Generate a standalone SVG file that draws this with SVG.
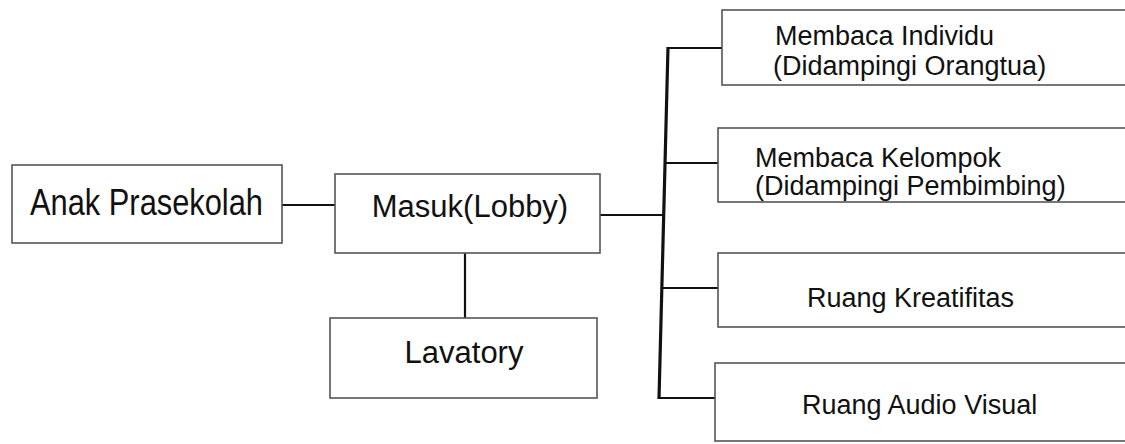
<svg xmlns="http://www.w3.org/2000/svg" width="1125" height="444" viewBox="0 0 1125 444">
<style>
.box{fill:#fff;stroke:#555;stroke-width:1.6}
.t{font-family:"Liberation Sans",Arial,sans-serif;fill:#111}
.big{font-size:31px}
.sm{font-size:27px}
.ln{stroke:#111;stroke-width:2.2;fill:none}
.trunk{stroke:#111;stroke-width:3.2;fill:none}
</style>
<rect width="1125" height="444" fill="#fff"/>
<g id="connectors">
<line class="ln" x1="282" y1="205" x2="335" y2="205"/>
<line class="ln" x1="465" y1="253" x2="465" y2="318"/>
<line class="ln" x1="600" y1="215" x2="664" y2="215"/>
<line class="trunk" x1="668" y1="47" x2="659" y2="399"/>
<line class="ln" x1="668" y1="48" x2="722" y2="48"/>
<line class="ln" x1="665" y1="163" x2="718" y2="163"/>
<line class="ln" x1="662" y1="288" x2="718" y2="288"/>
<line class="ln" x1="659" y1="398" x2="715" y2="398"/>
</g>
<g id="anak">
<rect class="box" x="12" y="165" width="270" height="78"/>
<text class="t" font-size="36" x="30" y="215" textLength="233" lengthAdjust="spacingAndGlyphs">Anak Prasekolah</text>
</g>
<g id="masuk">
<rect class="box" x="335" y="174" width="265" height="79"/>
<text class="t big" x="470" y="217" text-anchor="middle">Masuk(Lobby)</text>
</g>
<g id="lavatory">
<rect class="box" x="330" y="318" width="267" height="80"/>
<text class="t big" x="464" y="363" text-anchor="middle">Lavatory</text>
</g>
<g id="individu">
<rect class="box" x="722" y="10" width="420" height="75"/>
<text class="t sm" x="775" y="45">Membaca Individu</text>
<text class="t sm" x="773" y="75">(Didampingi Orangtua)</text>
</g>
<g id="kelompok">
<rect class="box" x="718" y="128" width="424" height="74"/>
<text class="t sm" x="755" y="167">Membaca Kelompok</text>
<text class="t sm" x="755" y="195">(Didampingi Pembimbing)</text>
</g>
<g id="kreatifitas">
<rect class="box" x="718" y="253" width="424" height="74"/>
<text class="t sm" x="807" y="307">Ruang Kreatifitas</text>
</g>
<g id="audiovisual">
<rect class="box" x="715" y="363" width="427" height="78"/>
<text class="t sm" x="802" y="414">Ruang Audio Visual</text>
</g>
</svg>
